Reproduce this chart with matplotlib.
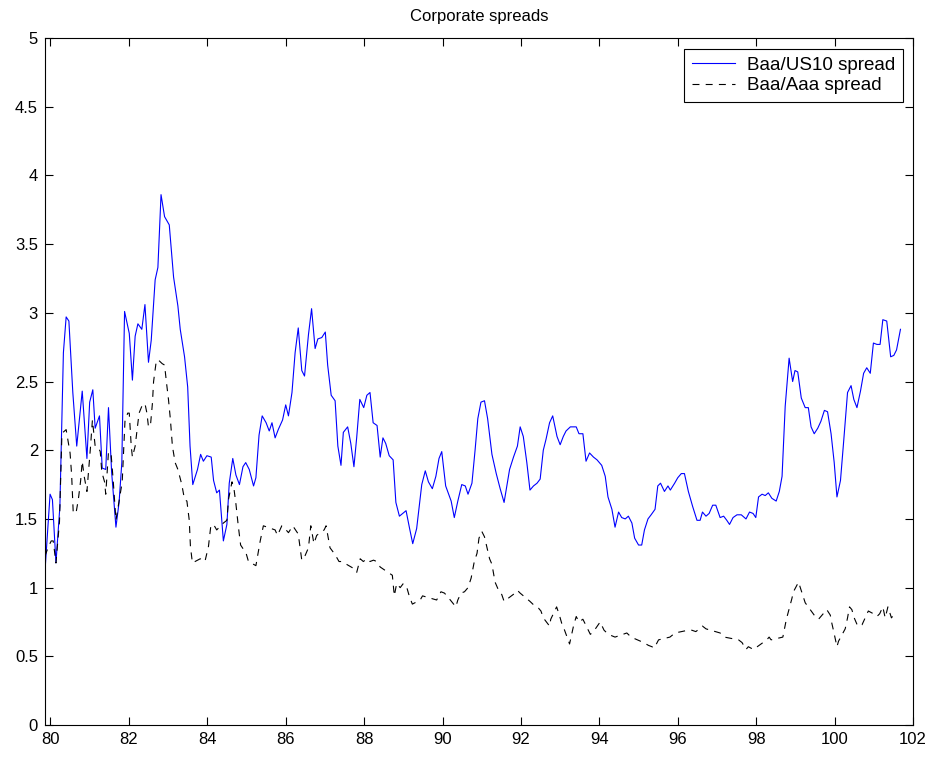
import matplotlib
matplotlib.use("Agg")
import matplotlib.pyplot as plt
from matplotlib.ticker import FormatStrFormatter

plt.rcParams['font.family'] = ['Liberation Sans', 'DejaVu Sans']
plt.rcParams['lines.scale_dashes'] = False

# Baa minus 10-year Treasury yield (dates in years since 1900)
us10_dates = [
    79.86, 79.99, 80.05, 80.14, 80.24, 80.33, 80.40, 80.47, 80.57, 80.67,
    80.81, 80.93, 81.00, 81.08, 81.14, 81.25, 81.32, 81.41, 81.48, 81.56,
    81.67, 81.75, 81.82, 81.89, 82.01, 82.09, 82.16, 82.23, 82.33, 82.41,
    82.50, 82.57, 82.67, 82.74, 82.82, 82.91, 83.03, 83.14, 83.25, 83.31,
    83.42, 83.50, 83.56, 83.63, 83.75, 83.83, 83.90, 83.99, 84.10, 84.16,
    84.24, 84.31, 84.41, 84.50, 84.56, 84.65, 84.73, 84.82, 84.91, 84.98,
    85.07, 85.18, 85.24, 85.32, 85.40, 85.50, 85.58, 85.65, 85.73, 85.81,
    85.92, 86.00, 86.07, 86.16, 86.24, 86.32, 86.41, 86.48, 86.58, 86.66,
    86.75, 86.82, 86.92, 87.01, 87.07, 87.16, 87.26, 87.33, 87.41, 87.47,
    87.58, 87.66, 87.74, 87.81, 87.89, 87.99, 88.07, 88.15, 88.23, 88.33,
    88.41, 88.48, 88.55, 88.64, 88.74, 88.81, 88.90, 89.07, 89.16, 89.24,
    89.34, 89.47, 89.56, 89.64, 89.74, 89.83, 89.91, 89.98, 90.08, 90.22,
    90.30, 90.39, 90.49, 90.58, 90.65, 90.75, 90.83, 90.90, 90.98, 91.07,
    91.15, 91.26, 91.37, 91.47, 91.57, 91.71, 91.81, 91.91, 91.98, 92.06,
    92.15, 92.23, 92.32, 92.41, 92.49, 92.57, 92.64, 92.73, 92.81, 92.92,
    93.00, 93.08, 93.15, 93.26, 93.41, 93.48, 93.58, 93.66, 93.75, 93.85,
    93.94, 94.06, 94.15, 94.22, 94.32, 94.40, 94.49, 94.57, 94.66, 94.74,
    94.83, 94.90, 95.00, 95.08, 95.15, 95.24, 95.32, 95.42, 95.49, 95.56,
    95.66, 95.75, 95.81, 95.92, 96.00, 96.09, 96.17, 96.27, 96.38, 96.49,
    96.57, 96.63, 96.72, 96.80, 96.89, 96.97, 97.08, 97.17, 97.25, 97.32,
    97.41, 97.51, 97.62, 97.74, 97.83, 97.92, 97.99, 98.06, 98.15, 98.23,
    98.31, 98.40, 98.51, 98.59, 98.66, 98.74, 98.84, 98.93, 98.99, 99.06,
    99.15, 99.25, 99.33, 99.40, 99.48, 99.57, 99.65, 99.74, 99.82, 99.91,
    99.99, 100.06, 100.15, 100.23, 100.33, 100.42, 100.49, 100.57, 100.66, 100.74,
    100.82, 100.91, 100.99, 101.08, 101.16, 101.23, 101.33, 101.43, 101.51, 101.58,
    101.68,
]
us10_spread = [
    1.12, 1.68, 1.64, 1.18, 1.59, 2.71, 2.97, 2.94, 2.42, 2.03,
    2.43, 1.94, 2.35, 2.44, 2.16, 2.25, 1.87, 1.86, 2.31, 1.84,
    1.44, 1.62, 1.91, 3.01, 2.85, 2.51, 2.83, 2.92, 2.88, 3.06,
    2.64, 2.80, 3.24, 3.33, 3.86, 3.70, 3.64, 3.26, 3.05, 2.88,
    2.68, 2.46, 2.03, 1.75, 1.86, 1.97, 1.92, 1.96, 1.95, 1.78,
    1.69, 1.71, 1.34, 1.46, 1.76, 1.94, 1.82, 1.75, 1.88, 1.91,
    1.86, 1.74, 1.80, 2.11, 2.25, 2.20, 2.14, 2.20, 2.09, 2.15,
    2.22, 2.33, 2.25, 2.42, 2.71, 2.89, 2.58, 2.54, 2.84, 3.03,
    2.74, 2.81, 2.82, 2.86, 2.62, 2.40, 2.36, 2.03, 1.89, 2.13,
    2.17, 2.05, 1.88, 2.09, 2.37, 2.31, 2.40, 2.42, 2.20, 2.18,
    1.95, 2.09, 2.05, 1.96, 1.93, 1.62, 1.52, 1.56, 1.43, 1.32,
    1.43, 1.75, 1.85, 1.77, 1.72, 1.81, 1.94, 1.99, 1.74, 1.63,
    1.51, 1.63, 1.75, 1.74, 1.68, 1.76, 2.00, 2.23, 2.35, 2.36,
    2.23, 1.97, 1.83, 1.72, 1.62, 1.86, 1.95, 2.03, 2.17, 2.10,
    1.91, 1.71, 1.74, 1.76, 1.79, 2.00, 2.08, 2.20, 2.25, 2.10,
    2.04, 2.10, 2.14, 2.17, 2.17, 2.12, 2.12, 1.92, 1.98, 1.95,
    1.93, 1.89, 1.81, 1.66, 1.57, 1.44, 1.55, 1.51, 1.50, 1.52,
    1.47, 1.36, 1.31, 1.31, 1.42, 1.50, 1.53, 1.57, 1.74, 1.76,
    1.70, 1.74, 1.71, 1.76, 1.80, 1.83, 1.83, 1.70, 1.59, 1.49,
    1.49, 1.55, 1.52, 1.54, 1.60, 1.60, 1.51, 1.52, 1.49, 1.46,
    1.51, 1.53, 1.53, 1.50, 1.55, 1.54, 1.51, 1.66, 1.68, 1.67,
    1.69, 1.65, 1.63, 1.70, 1.81, 2.32, 2.67, 2.50, 2.58, 2.57,
    2.38, 2.31, 2.31, 2.17, 2.12, 2.16, 2.21, 2.29, 2.28, 2.12,
    1.91, 1.66, 1.78, 2.06, 2.42, 2.47, 2.37, 2.31, 2.43, 2.56,
    2.60, 2.56, 2.78, 2.77, 2.77, 2.95, 2.94, 2.68, 2.69, 2.73,
    2.88,
]

# Baa minus Aaa corporate yield
aaa_dates = [
    79.86, 79.95, 80.02, 80.07, 80.14, 80.23, 80.29, 80.32, 80.40, 80.50,
    80.54, 80.58, 80.65, 80.71, 80.77, 80.81, 80.86, 80.93, 80.97, 81.02,
    81.07, 81.14, 81.22, 81.27, 81.31, 81.38, 81.41, 81.48, 81.55, 81.60,
    81.67, 81.83, 81.87, 81.90, 81.97, 82.01, 82.06, 82.09, 82.16, 82.21,
    82.26, 82.33, 82.41, 82.46, 82.50, 82.55, 82.60, 82.63, 82.69, 82.74,
    82.85, 82.91, 82.96, 83.01, 83.06, 83.11, 83.18, 83.25, 83.35, 83.42,
    83.48, 83.54, 83.57, 83.62, 83.82, 83.94, 84.03, 84.09, 84.16, 84.24,
    84.41, 84.50, 84.54, 84.63, 84.68, 84.73, 84.79, 84.85, 84.92, 84.99,
    85.05, 85.24, 85.35, 85.43, 85.73, 85.79, 85.90, 85.98, 86.07, 86.18,
    86.32, 86.41, 86.49, 86.58, 86.64, 86.72, 86.79, 86.88, 86.98, 87.03,
    87.13, 87.26, 87.36, 87.43, 87.73, 87.81, 87.90, 87.98, 88.07, 88.15,
    88.24, 88.32, 88.41, 88.72, 88.77, 88.83, 88.92, 89.00, 89.09, 89.15,
    89.23, 89.43, 89.49, 89.85, 89.96, 90.05, 90.17, 90.34, 90.39, 90.47,
    90.56, 90.65, 90.73, 90.81, 90.88, 90.93, 91.00, 91.07, 91.11, 91.20,
    91.26, 91.34, 91.43, 91.51, 91.57, 91.85, 91.91, 91.98, 92.23, 92.34,
    92.45, 92.51, 92.57, 92.73, 92.76, 92.91, 92.98, 93.04, 93.10, 93.24,
    93.34, 93.41, 93.48, 93.58, 93.77, 93.85, 94.02, 94.12, 94.23, 94.40,
    94.70, 94.81, 95.13, 95.25, 95.34, 95.40, 95.51, 95.80, 95.93, 96.26,
    96.36, 96.46, 96.55, 96.63, 96.72, 97.08, 97.19, 97.55, 97.64, 97.74,
    97.80, 97.93, 98.27, 98.33, 98.38, 98.68, 98.77, 98.91, 98.95, 99.08,
    99.17, 99.25, 99.48, 99.59, 99.80, 99.89, 99.93, 99.97, 100.06, 100.10,
    100.27, 100.33, 100.38, 100.44, 100.50, 100.59, 100.70, 100.78, 100.86, 100.99,
    101.08, 101.15, 101.23, 101.29, 101.36, 101.45, 101.53,
]
aaa_spread = [
    1.23, 1.30, 1.34, 1.34, 1.18, 1.48, 2.10, 2.13, 2.15, 1.98,
    1.82, 1.55, 1.54, 1.64, 1.78, 1.92, 1.81, 1.70, 1.84, 2.02,
    2.22, 2.03, 2.02, 1.99, 1.84, 1.77, 1.68, 1.99, 1.96, 1.78,
    1.49, 1.77, 2.03, 2.21, 2.27, 2.27, 2.03, 1.95, 2.03, 2.15,
    2.27, 2.32, 2.34, 2.27, 2.17, 2.18, 2.34, 2.50, 2.63, 2.66,
    2.63, 2.62, 2.49, 2.37, 2.22, 2.03, 1.91, 1.86, 1.75, 1.64,
    1.63, 1.49, 1.30, 1.18, 1.21, 1.19, 1.30, 1.45, 1.46, 1.42,
    1.47, 1.49, 1.64, 1.77, 1.72, 1.61, 1.45, 1.31, 1.28, 1.25,
    1.19, 1.16, 1.34, 1.45, 1.42, 1.38, 1.45, 1.43, 1.40, 1.45,
    1.39, 1.20, 1.23, 1.29, 1.45, 1.32, 1.38, 1.40, 1.42, 1.45,
    1.29, 1.24, 1.19, 1.19, 1.14, 1.11, 1.21, 1.19, 1.21, 1.19,
    1.20, 1.19, 1.15, 1.09, 0.94, 1.03, 1.00, 1.03, 1.00, 0.94,
    0.88, 0.91, 0.94, 0.91, 0.97, 0.96, 0.92, 0.86, 0.91, 0.96,
    0.97, 1.00, 1.07, 1.19, 1.25, 1.36, 1.41, 1.37, 1.32, 1.21,
    1.17, 1.04, 0.98, 0.95, 0.90, 0.96, 0.98, 0.96, 0.90, 0.87,
    0.85, 0.83, 0.78, 0.72, 0.77, 0.86, 0.80, 0.74, 0.70, 0.59,
    0.72, 0.79, 0.75, 0.77, 0.66, 0.68, 0.75, 0.69, 0.66, 0.64,
    0.67, 0.64, 0.60, 0.58, 0.57, 0.56, 0.62, 0.64, 0.67, 0.69,
    0.69, 0.68, 0.70, 0.72, 0.70, 0.67, 0.64, 0.62, 0.60, 0.55,
    0.57, 0.55, 0.62, 0.64, 0.62, 0.64, 0.77, 0.92, 0.97, 1.04,
    0.96, 0.89, 0.80, 0.77, 0.84, 0.80, 0.74, 0.69, 0.57, 0.61,
    0.70, 0.78, 0.86, 0.84, 0.78, 0.72, 0.73, 0.78, 0.83, 0.81,
    0.79, 0.81, 0.86, 0.78, 0.86, 0.78, 0.81,
]

x_ticks = list(range(80, 103, 2))
y_ticks = [0, 0.5, 1, 1.5, 2, 2.5, 3, 3.5, 4, 4.5, 5]

fig = plt.figure(figsize=(9.37, 7.6), dpi=100)
ax = fig.add_axes([0.048, 0.046, 0.9264, 0.904])

ax.plot(us10_dates, us10_spread, color='#0000ff', lw=0.8, label='Baa/US10 spread')
ax.plot(aaa_dates, aaa_spread, color='black', lw=0.8,
        linestyle=(0, (5, 4.5)), label='Baa/Aaa spread')

ax.set_xlim(79.86, 102)
ax.set_ylim(0, 5)
ax.set_xticks(x_ticks)
ax.set_yticks(y_ticks)
ax.yaxis.set_major_formatter(FormatStrFormatter('%g'))
ax.tick_params(direction='in', top=True, right=True, length=6, width=0.8,
               labelsize=12, pad=5)
for sp in ax.spines.values():
    sp.set_linewidth(0.8)

ax.set_title('Corporate spreads', fontsize=12, pad=12)

leg = ax.legend(loc='upper right', bbox_to_anchor=(0.9885, 0.984),
                borderaxespad=0, fontsize=13.5, fancybox=False, framealpha=1,
                edgecolor='black', handlelength=2.3, handletextpad=0.65,
                borderpad=0.4, labelspacing=0.2)
leg.get_frame().set_linewidth(0.8)

fig.savefig('out.png', dpi=100)
